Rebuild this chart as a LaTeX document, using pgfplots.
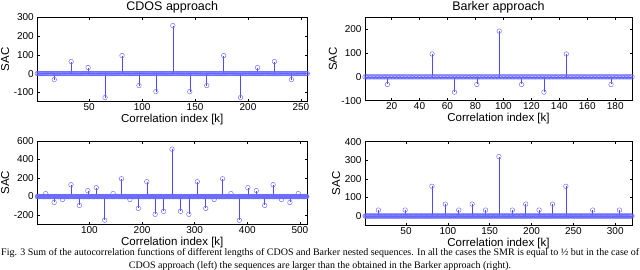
\documentclass[border=0pt]{standalone}
\usepackage{fontspec}
\setmainfont{Liberation Serif}
\newfontfamily\arial{Liberation Sans}
\usepackage{pgfplots}
\usepackage{pgfplotstable}
\pgfplotsset{compat=1.18}
\definecolor{mk}{rgb}{0.42,0.42,1}
\definecolor{st}{rgb}{0.3,0.3,1}

% baseline samples (all zero), one per correlation index
\pgfplotstableread[row sep=\\, header=false]{
0\\0\\0\\0\\0\\0\\0\\0\\0\\0\\0\\0\\0\\0\\0\\0\\0\\0\\0\\0\\0\\0\\0\\0\\0\\0\\0\\
0\\0\\0\\0\\0\\0\\0\\0\\0\\0\\0\\0\\0\\0\\0\\0\\0\\0\\0\\0\\0\\0\\0\\0\\0\\0\\0\\
0\\0\\0\\0\\0\\0\\0\\0\\0\\0\\0\\0\\0\\0\\0\\0\\0\\0\\0\\0\\0\\0\\0\\0\\0\\0\\0\\
0\\0\\0\\0\\0\\0\\0\\0\\0\\0\\0\\0\\0\\0\\0\\0\\0\\0\\0\\0\\0\\0\\0\\0\\0\\0\\0\\
0\\0\\0\\0\\0\\0\\0\\0\\0\\0\\0\\0\\0\\0\\0\\0\\0\\0\\0\\0\\0\\0\\0\\0\\0\\0\\0\\
0\\0\\0\\0\\0\\0\\0\\0\\0\\0\\0\\0\\0\\0\\0\\0\\0\\0\\0\\0\\0\\0\\0\\0\\0\\0\\0\\
0\\0\\0\\0\\0\\0\\0\\0\\0\\0\\0\\0\\0\\0\\0\\0\\0\\0\\0\\0\\0\\0\\0\\0\\0\\0\\0\\
0\\0\\0\\0\\0\\0\\0\\0\\0\\0\\0\\0\\0\\0\\0\\0\\0\\0\\0\\0\\0\\0\\0\\0\\0\\0\\0\\
0\\0\\0\\0\\0\\0\\0\\0\\0\\0\\0\\0\\0\\0\\0\\0\\0\\0\\0\\0\\0\\0\\0\\0\\0\\0\\0\\
0\\0\\0\\0\\0\\0\\0\\0\\0\\0\\0\\0\\0\\0\\0\\0\\0\\0\\0\\0\\0\\0\\0\\0\\0\\0\\0\\
0\\0\\0\\0\\0\\0\\0\\0\\0\\0\\0\\0\\0\\0\\0\\0\\0\\0\\0\\0\\0\\0\\0\\0\\0\\0\\0\\
0\\0\\0\\0\\0\\0\\0\\0\\0\\0\\0\\0\\0\\0\\0\\0\\0\\0\\0\\0\\0\\0\\0\\0\\0\\0\\0\\
0\\0\\0\\0\\0\\0\\0\\0\\0\\0\\0\\0\\0\\0\\0\\0\\0\\0\\0\\0\\0\\0\\0\\0\\0\\0\\0\\
0\\0\\0\\0\\0\\0\\0\\0\\0\\0\\0\\0\\0\\0\\0\\0\\0\\0\\0\\0\\0\\0\\0\\0\\0\\0\\0\\
0\\0\\0\\0\\0\\0\\0\\0\\0\\0\\0\\0\\0\\0\\0\\0\\0\\0\\0\\0\\0\\0\\0\\0\\0\\0\\0\\
0\\0\\0\\0\\0\\0\\0\\0\\0\\0\\0\\0\\0\\0\\0\\0\\0\\0\\0\\0\\0\\0\\0\\0\\0\\0\\0\\
0\\0\\0\\0\\0\\0\\0\\0\\0\\0\\0\\0\\0\\0\\0\\0\\0\\0\\0\\0\\0\\0\\0\\0\\0\\0\\0\\
0\\0\\0\\0\\0\\0\\0\\0\\0\\0\\0\\0\\0\\0\\0\\0\\0\\0\\0\\0\\0\\0\\0\\0\\0\\0\\0\\
0\\0\\0\\0\\0\\0\\0\\0\\0\\0\\0\\0\\0\\0\\0\\0\\0\\0\\0\\0\\0\\0\\0\\0\\0\\0\\0\\
0\\0\\0\\0\\0\\0\\0\\0\\0\\0\\0\\0\\0\\0\\0\\0\\0\\0\\0\\0\\0\\0\\0\\0\\0\\0\\0\\
}\zeros

\pgfplotsset{
  stemax/.style={
    scale only axis, clip=false,
    tick align=inside, major tick length=2.5pt,
    font=\arial\fontsize{10}{12}\selectfont,
    tick label style={font=\arial\fontsize{10}{12}\selectfont},
    xticklabel style={inner sep=2pt},
    label style={font=\arial\fontsize{11.5}{13}\selectfont},
    xlabel style={inner sep=1pt},
    ylabel style={inner sep=1pt},
    every axis title shift=0pt,
    title style={font=\arial\fontsize{12.5}{14}\selectfont, at={(0.5,1)}, anchor=base, yshift=6.5pt},
    xlabel={Correlation index [k]}, ylabel={SAC},
    /pgf/number format/assume math mode=true,
    scaled ticks=false,
    axis line style={black, line width=0.6pt},
    every tick/.style={black, line width=0.5pt},
  },
  basem/.style={only marks, mark=o, mark size=2.3pt, mark options={draw=mk, line width=0.45pt}},
  stemp/.style={ycomb, draw=st, line width=0.5pt, mark=o, mark size=2.3pt, mark options={draw=mk, line width=0.45pt}},
  zline/.style={draw=st, line width=0.6pt, mark=none},
}

\begin{document}
\begin{tikzpicture}
\useasboundingbox (0,0) rectangle (640pt,-270pt);

% ---------- CDOS 256 ----------
\begin{axis}[stemax, at={(37.3pt,-17.3pt)}, anchor=north west,
  width=270pt, height=84.4pt,
  xmin=1, xmax=256, ymin=-150, ymax=300,
  xtick={50,100,150,200,250}, ytick={-100,0,100,200,300},
  title={CDOS approach}]
\addplot[basem] table[x expr=\coordindex+1, y index=0, skip coords between index={256}{1000}] {\zeros};
\addplot[zline] coordinates {(1,0) (256,0)};
\addplot[stemp] coordinates {(17,-32)(33,64)(49,32)(65,-128)(81,96)(97,-64)(113,-96)(129,256)(145,-96)(161,-64)(177,96)(193,-128)(209,32)(225,64)(241,-32)};
\end{axis}

% ---------- Barker 192 ----------
\begin{axis}[stemax, at={(365pt,-17.3pt)}, anchor=north west,
  width=267pt, height=83.4pt,
  xmin=1, xmax=192, ymin=-100, ymax=250,
  xtick={20,40,60,80,100,120,140,160,180}, ytick={-100,0,100,200},
  title={Barker approach}]
\addplot[basem] table[x expr=\coordindex+1, y index=0, skip coords between index={192}{1000}] {\zeros};
\addplot[zline] coordinates {(1,0) (192,0)};
\addplot[stemp] coordinates {(17,-32)(49,96)(65,-64)(81,-32)(97,192)(113,-32)(129,-64)(145,96)(177,-32)};
\end{axis}

% ---------- CDOS 512 ----------
\begin{axis}[stemax, at={(37.3pt,-141pt)}, anchor=north west,
  width=270pt, height=83.3pt,
  xmin=1, xmax=514, ymin=-300, ymax=600,
  xtick={100,200,300,400,500}, ytick={-200,0,200,400,600}]
\addplot[basem] table[x expr=\coordindex+1, y index=0, skip coords between index={513}{1000}] {\zeros};
\addplot[zline] coordinates {(1,0) (513,0)};
\addplot[stemp] coordinates {(17,32)(33,-64)(49,-32)(65,128)(81,-96)(97,64)(113,96)(129,-256)(145,32)(161,192)(177,-32)(193,-128)(209,160)(225,-192)(241,-160)(257,512)(273,-160)(289,-192)(305,160)(321,-128)(337,-32)(353,192)(369,32)(385,-256)(401,96)(417,64)(433,-96)(449,128)(465,-32)(481,-64)(497,32)};
\end{axis}

% ---------- Barker 320 ----------
\begin{axis}[stemax, at={(365pt,-141.7pt)}, anchor=north west,
  width=267pt, height=83.6pt,
  xmin=1, xmax=320, ymin=-50, ymax=400,
  xtick={50,100,150,200,250,300}, ytick={0,100,200,300,400}]
\addplot[basem] table[x expr=\coordindex+1, y index=0, skip coords between index={320}{1000}] {\zeros};
\addplot[zline] coordinates {(1,0) (320,0)};
\addplot[stemp] coordinates {(17,32)(49,32)(81,160)(97,64)(113,32)(129,64)(145,32)(161,320)(177,32)(193,64)(209,32)(225,64)(241,160)(273,32)(305,32)};
\end{axis}

% ---------- caption ----------
\node[anchor=base west, inner sep=0pt] at (1pt,-255pt)
  {\fontsize{10}{12}\selectfont\makebox[638pt][s]{Fig. 3 Sum of the autocorrelation functions of different lengths of CDOS and Barker nested sequences. In all the cases the SMR is equal to ½ but in the case of}};
\node[anchor=base, inner sep=0pt] at (320pt,-268.5pt)
  {\fontsize{10}{12}\selectfont CDOS approach (left) the sequences are larger than the obtained in the Barker approach (right).};
\end{tikzpicture}
\end{document}
